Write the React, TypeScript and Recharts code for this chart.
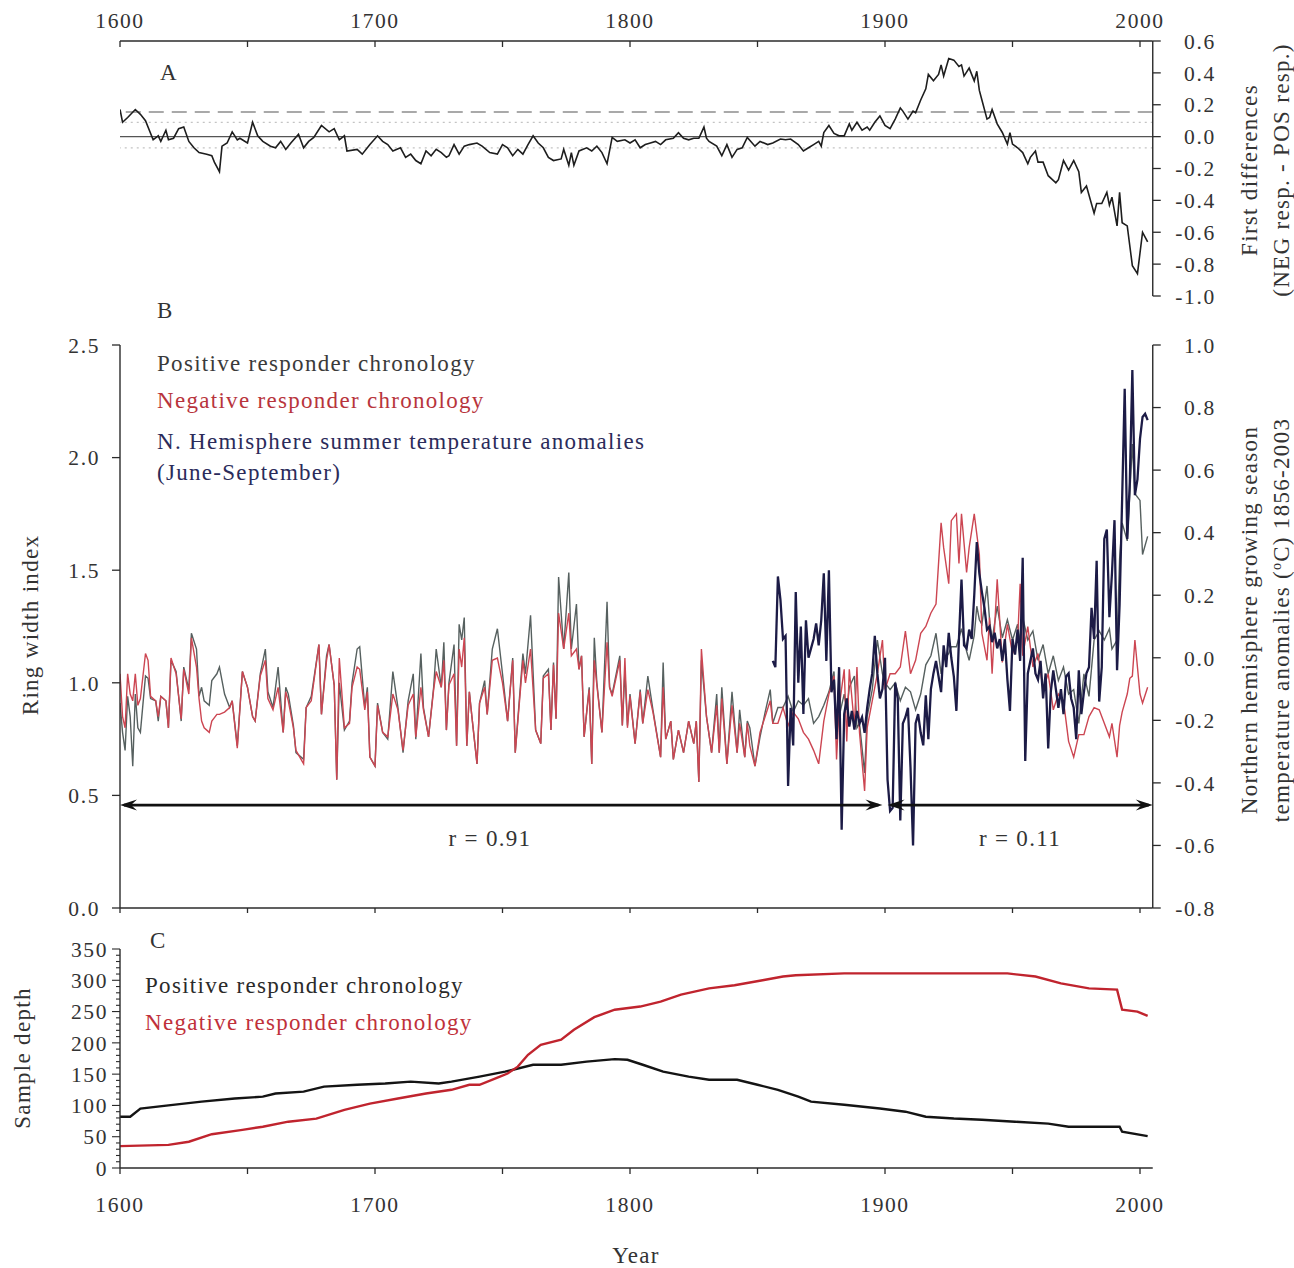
import React from 'react';
import { LineChart, Line, XAxis, YAxis, ReferenceLine } from 'recharts';

const FONT = '"Liberation Serif", "Times New Roman", serif';
const YEAR_DOMAIN: [number, number] = [1600, 2005];
const YEAR_TICKS = [1600, 1650, 1700, 1750, 1800, 1850, 1900, 1950, 2000];

// ---------- Panel A: first differences (NEG resp. - POS resp.) ----------
const diffYears = [
  1600, 1601, 1603, 1606, 1608, 1610, 1613, 1615, 1616, 1618, 1619, 1621, 1623, 1625, 1627, 1629, 1631, 1634, 1636, 1637,
  1639, 1640, 1642, 1644, 1646, 1647, 1650, 1652, 1654, 1656, 1659, 1661, 1663, 1665, 1667, 1670, 1672, 1674, 1676, 1679,
  1682, 1684, 1686, 1688, 1689, 1693, 1695, 1698, 1701, 1703, 1705, 1707, 1710, 1712, 1714, 1716, 1718, 1720, 1722, 1724,
  1726, 1728, 1729, 1731, 1733, 1735, 1737, 1740, 1742, 1745, 1748, 1750, 1752, 1754, 1756, 1758, 1760, 1762, 1764, 1766,
  1768, 1770, 1773, 1774, 1776, 1777, 1778, 1780, 1783, 1785, 1787, 1789, 1791, 1793, 1795, 1798, 1800, 1802, 1804, 1806,
  1808, 1810, 1812, 1814, 1817, 1819, 1821, 1823, 1825, 1827, 1829, 1830, 1831, 1834, 1836, 1838, 1840, 1842, 1844, 1846,
  1849, 1851, 1854, 1856, 1859, 1861, 1863, 1866, 1868, 1870, 1872, 1874, 1875, 1876, 1878, 1880, 1882, 1884, 1886, 1887,
  1889, 1891, 1893, 1894, 1896, 1898, 1900, 1902, 1904, 1906, 1907, 1909, 1911, 1912, 1914, 1916, 1917, 1919, 1921, 1922,
  1923, 1925, 1927, 1929, 1930, 1931, 1933, 1935, 1936, 1937, 1938, 1940, 1941, 1942, 1944, 1946, 1948, 1949, 1950, 1952,
  1954, 1956, 1957, 1959, 1960, 1962, 1964, 1967, 1968, 1970, 1972, 1974, 1976, 1977, 1979, 1982, 1983, 1985, 1987, 1988,
  1989, 1991, 1992, 1993, 1995, 1997, 1999, 2001, 2003,
];
const diffValues = [
  0.17, 0.09, 0.12, 0.17, 0.14, 0.1, -0.02, 0.005, -0.03, 0.04, -0.02, -0.01, 0.05, 0.06, -0.03, -0.07, -0.1, -0.11, -0.12, -0.16,
  -0.22, -0.06, -0.04, 0.03, -0.02, -0.01, -0.04, 0.09, 0.005, -0.03, -0.06, -0.07, -0.03, -0.08, -0.04, 0.015, -0.07, -0.03, -0.005, 0.07,
  0.03, 0.05, -0.02, 0.005, -0.09, -0.08, -0.11, -0.05, 0.005, -0.03, -0.05, -0.09, -0.07, -0.13, -0.11, -0.15, -0.17, -0.09, -0.12, -0.08,
  -0.1, -0.13, -0.12, -0.05, -0.11, -0.06, -0.05, -0.04, -0.06, -0.1, -0.11, -0.05, -0.07, -0.12, -0.08, -0.11, -0.05, 0.005, -0.04, -0.07,
  -0.13, -0.15, -0.14, -0.08, -0.18, -0.1, -0.18, -0.09, -0.07, -0.09, -0.06, -0.1, -0.17, -0.005, -0.03, -0.02, -0.04, -0.02, -0.07, -0.05,
  -0.04, -0.03, -0.05, -0.02, -0.01, 0.025, -0.01, -0.02, -0.01, -0.01, 0.06, -0.01, -0.03, -0.06, -0.12, -0.05, -0.13, -0.08, -0.07, -0.005,
  -0.06, -0.03, -0.05, -0.04, -0.015, -0.02, -0.015, -0.05, -0.09, -0.07, -0.05, -0.03, -0.06, 0.025, 0.07, 0.02, 0.005, 0.005, 0.08, 0.04,
  0.09, 0.04, 0.06, 0.04, 0.09, 0.13, 0.07, 0.05, 0.11, 0.18, 0.16, 0.11, 0.16, 0.15, 0.23, 0.3, 0.39, 0.35, 0.39, 0.45,
  0.38, 0.49, 0.48, 0.44, 0.45, 0.38, 0.43, 0.35, 0.41, 0.29, 0.23, 0.11, 0.12, 0.17, 0.08, 0.026, -0.047, 0.025, -0.047, -0.07,
  -0.1, -0.17, -0.13, -0.09, -0.16, -0.16, -0.245, -0.29, -0.27, -0.15, -0.21, -0.15, -0.22, -0.35, -0.31, -0.48, -0.42, -0.42, -0.35, -0.43,
  -0.38, -0.56, -0.35, -0.54, -0.56, -0.81, -0.86, -0.6, -0.66,
];
const diffTicks = [-1, -0.8, -0.6, -0.4, -0.2, 0, 0.2, 0.4, 0.6];
const diffRefDashed = 0.155;
const diffRefDotted = [0.09, -0.07];

// ---------- Panel B: ring width chronologies and temperature ----------
const rwYears = [
  1600, 1601, 1602, 1603, 1604, 1605, 1606, 1607, 1608, 1610, 1611, 1612, 1614, 1615, 1616, 1618, 1619, 1620, 1622, 1624,
  1625, 1627, 1628, 1630, 1631, 1632, 1633, 1635, 1636, 1638, 1639, 1641, 1643, 1644, 1646, 1648, 1650, 1652, 1653, 1655,
  1657, 1658, 1660, 1662, 1664, 1665, 1666, 1668, 1669, 1671, 1672, 1673, 1675, 1678, 1679, 1681, 1682, 1684, 1685, 1686,
  1688, 1690, 1691, 1693, 1694, 1696, 1697, 1698, 1700, 1701, 1703, 1705, 1707, 1709, 1711, 1713, 1715, 1716, 1718, 1719,
  1721, 1723, 1724, 1726, 1727, 1728, 1729, 1731, 1732, 1733, 1734, 1735, 1736, 1737, 1738, 1740, 1741, 1743, 1744, 1746,
  1748, 1750, 1752, 1754, 1755, 1758, 1759, 1761, 1763, 1765, 1766, 1768, 1769, 1770, 1771, 1772, 1774, 1776, 1777, 1779,
  1780, 1781, 1782, 1784, 1785, 1786, 1787, 1789, 1791, 1792, 1793, 1796, 1797, 1798, 1799, 1800, 1802, 1804, 1805, 1807,
  1809, 1812, 1813, 1814, 1816, 1817, 1819, 1821, 1823, 1825, 1826, 1827, 1828, 1830, 1832, 1834, 1835, 1836, 1838, 1840,
  1842, 1843, 1845, 1846, 1847, 1849, 1851, 1853, 1855, 1856, 1858, 1860, 1862, 1864, 1866, 1868, 1870, 1872, 1874, 1876,
  1878, 1880, 1881, 1882, 1884, 1885, 1886, 1888, 1889, 1890, 1892, 1893, 1895, 1897, 1899, 1900, 1902, 1904, 1906, 1908,
  1910, 1912, 1914, 1916, 1918, 1920, 1922, 1923, 1925, 1926, 1928, 1929, 1930, 1932, 1933, 1935, 1936, 1937, 1938, 1940,
  1941, 1942, 1944, 1946, 1948, 1950, 1952, 1953, 1954, 1956, 1958, 1960, 1962, 1964, 1966, 1968, 1970, 1972, 1974, 1976,
  1978, 1980, 1982, 1984, 1986, 1988, 1989, 1991, 1992, 1993, 1995, 1996, 1997, 1998, 2000, 2001, 2003,
];
const positiveRW = [
  0.91, 0.78, 0.7, 0.94, 0.85, 0.63, 0.95, 0.8, 0.78, 1.03, 1.02, 0.93, 0.92, 0.83, 0.94, 0.92, 0.8, 1.1, 1.05, 0.83,
  1.07, 0.97, 1.22, 1.15, 0.94, 0.98, 0.92, 0.9, 1.01, 1.04, 1.07, 0.95, 0.89, 0.92, 0.72, 1.05, 0.98, 0.85, 0.83, 1.04,
  1.15, 0.96, 0.89, 1.07, 0.78, 0.98, 0.95, 0.81, 0.69, 0.67, 0.66, 0.89, 0.94, 1.17, 0.86, 1.12, 1.17, 0.99, 0.57, 1.0,
  0.79, 0.83, 1.0, 1.15, 1.16, 0.89, 0.98, 0.67, 0.63, 0.91, 0.78, 0.75, 1.05, 0.89, 0.69, 0.92, 1.04, 0.75, 1.13, 0.89,
  0.76, 0.98, 1.15, 0.98, 1.18, 0.79, 1.0, 1.17, 0.72, 1.26, 1.19, 1.29, 0.72, 0.96, 0.85, 0.64, 0.91, 1.01, 0.86, 1.15,
  1.24, 1.04, 0.83, 1.11, 0.69, 1.13, 1.04, 1.3, 0.79, 0.73, 1.03, 1.06, 0.79, 1.09, 0.84, 1.47, 1.15, 1.49, 1.15, 1.35,
  1.06, 1.12, 0.76, 0.98, 0.64, 1.2, 1.0, 0.78, 1.36, 0.98, 0.95, 1.12, 0.81, 1.05, 0.81, 0.95, 0.73, 0.97, 0.82, 1.03,
  0.88, 0.67, 1.09, 0.75, 0.83, 0.66, 0.79, 0.69, 0.83, 0.73, 0.83, 0.56, 1.1, 0.85, 0.69, 0.95, 0.69, 0.98, 0.64, 0.96,
  0.69, 0.88, 0.67, 0.83, 0.8, 0.63, 0.76, 0.87, 0.97, 0.82, 0.89, 0.89, 0.94, 0.87, 0.92, 0.9, 0.93, 0.82, 0.85, 0.9,
  0.96, 1.05, 0.78, 0.85, 0.95, 0.88, 0.98, 1.03, 0.8, 0.82, 0.6, 0.85, 0.97, 1.19, 1.04, 1.0, 0.97, 1.0, 0.92, 0.98,
  0.96, 0.88, 0.95, 1.08, 1.12, 1.22, 1.04, 1.1, 1.13, 1.16, 1.16, 1.2, 1.24, 1.14, 1.1, 1.21, 1.34, 1.28, 1.26, 1.43,
  1.28, 1.19, 1.34, 1.2, 1.28, 1.19, 1.26, 1.18, 1.29, 1.19, 1.23, 1.1, 1.17, 1.04, 1.12, 1.01, 1.07, 0.95, 0.97, 0.82,
  1.04, 0.94, 1.19, 1.23, 1.19, 1.24, 1.15, 1.19, 1.55, 1.71, 1.63, 1.84, 2.06, 1.84, 1.81, 1.57, 1.65,
];
const negativeRW = [
  1.04, 0.85, 0.8, 1.04, 0.95, 0.92, 1.04, 0.9, 0.93, 1.13, 1.1, 0.94, 0.92, 0.85, 0.94, 0.92, 0.8, 1.11, 1.04, 0.84,
  1.06, 0.95, 1.2, 1.07, 0.93, 0.83, 0.8, 0.78, 0.83, 0.86, 0.86, 0.87, 0.89, 0.92, 0.71, 1.05, 0.98, 0.85, 0.83, 1.03,
  1.1, 0.93, 0.88, 0.98, 0.78, 0.96, 0.92, 0.8, 0.7, 0.66, 0.64, 0.89, 0.92, 1.17, 0.86, 1.1, 1.17, 0.99, 0.57, 1.11,
  0.8, 0.82, 0.98, 1.07, 1.06, 0.88, 0.96, 0.67, 0.63, 0.9, 0.78, 0.76, 0.95, 0.88, 0.7, 0.9, 0.95, 0.76, 0.98, 0.88,
  0.76, 0.97, 1.05, 0.98, 1.1, 0.79, 0.99, 1.04, 0.72, 1.15, 1.07, 1.2, 0.72, 0.96, 0.85, 0.64, 0.91, 0.98, 0.86, 1.1,
  1.11, 1.0, 0.83, 1.1, 0.69, 1.1, 1.0, 1.15, 0.79, 0.73, 1.02, 1.04, 0.79, 1.08, 0.84, 1.31, 1.15, 1.31, 1.12, 1.15,
  1.06, 1.12, 0.76, 0.97, 0.64, 1.1, 0.99, 0.78, 1.18, 0.98, 0.94, 1.1, 0.81, 1.11, 0.8, 0.94, 0.73, 0.96, 0.82, 0.97,
  0.87, 0.67, 0.98, 0.75, 0.83, 0.66, 0.79, 0.69, 0.83, 0.73, 0.83, 0.56, 1.15, 0.85, 0.69, 0.9, 0.69, 0.93, 0.64, 0.9,
  0.69, 0.82, 0.67, 0.82, 0.72, 0.63, 0.78, 0.85, 0.92, 0.82, 0.82, 0.89, 0.81, 0.87, 0.84, 0.78, 0.75, 0.7, 0.64, 0.83,
  0.95, 1.03, 0.66, 0.89, 1.06, 0.74, 1.06, 0.81, 1.07, 0.78, 0.52, 0.8, 0.92, 1.04, 1.19, 0.97, 1.04, 1.04, 1.07, 1.23,
  1.04, 1.1, 1.22, 1.25, 1.31, 1.35, 1.71, 1.6, 1.44, 1.72, 1.75, 1.53, 1.75, 1.49, 1.6, 1.75, 1.66, 1.57, 1.22, 1.1,
  1.29, 1.04, 1.46, 1.09, 1.26, 1.13, 1.19, 1.44, 1.12, 1.25, 1.07, 1.13, 0.97, 1.04, 0.88, 0.95, 0.92, 0.74, 0.67, 0.77,
  0.77, 0.85, 0.89, 0.88, 0.82, 0.76, 0.82, 0.67, 0.81, 0.87, 0.95, 1.02, 1.03, 1.19, 0.95, 0.91, 0.98,
];
const tempStartYear = 1856;
const tempAnomaly = [
  -0.01, -0.03, 0.26, 0.185,
  0.06, 0.07, -0.41, -0.16, -0.28, 0.21, -0.08, 0.1, -0.18, 0.12,
  0.0, 0.03, 0.06, 0.11, 0.04, 0.12, 0.27, -0.01, 0.28, -0.11,
  -0.07, -0.26, -0.03, -0.55, -0.18, -0.13, -0.22, -0.17, -0.23, -0.17,
  -0.21, -0.19, -0.24, -0.16, -0.1, -0.05, 0.07, -0.05, -0.13, -0.1,
  0.0, -0.39, -0.49, -0.48, -0.08, -0.13, -0.52, -0.21, -0.19, -0.16,
  -0.35, -0.6, -0.21, -0.18, -0.24, -0.28, -0.12, -0.26, -0.1, -0.05,
  -0.01, -0.06, -0.11, 0.04, -0.03, 0.08, 0.0, -0.06, -0.17, 0.06,
  0.25, 0.04, 0.03, 0.09, 0.06, 0.2, 0.37, 0.27, 0.21, 0.16,
  0.09, 0.1, 0.05, 0.08, 0.03, 0.06, -0.01, 0.06, -0.07, -0.17,
  0.06, 0.01, 0.09, -0.01, 0.32, -0.33, -0.05, -0.01, 0.03, -0.05,
  -0.07, -0.01, -0.13, -0.05, -0.29, -0.11, -0.04, -0.1, -0.16, -0.1,
  -0.18, -0.06, -0.05, -0.13, -0.16, -0.26, -0.04, -0.18, -0.11, -0.05,
  -0.03, 0.16, 0.06, 0.31, -0.14, -0.03, 0.38, 0.41, 0.13, 0.27,
  0.44, -0.04, 0.17, 0.51, 0.86, 0.38, 0.56, 0.92, 0.52, 0.57,
  0.7, 0.77, 0.78, 0.76,
];
const rwTicks = [0, 0.5, 1, 1.5, 2, 2.5];
const tempTicks = [-0.8, -0.6, -0.4, -0.2, 0, 0.2, 0.4, 0.6, 0.8, 1.0];
const arrowLevel = 0.457;
const periods = [
  { from: 1600, to: 1899, label: 'r = 0.91' },
  { from: 1901, to: 2005, label: 'r = 0.11' },
];

// ---------- Panel C: sample depth ----------
const depthPosYears = [
  1600, 1604, 1608, 1619, 1632, 1645, 1656, 1661, 1672, 1680, 1693, 1704, 1714, 1725, 1730, 1741, 1751, 1762, 1773, 1783,
  1794, 1799, 1805, 1813, 1823, 1831, 1842, 1850, 1858, 1866, 1871, 1884, 1898, 1908, 1916, 1927, 1938, 1951, 1964, 1972,
  1985, 1992, 1993, 2003,
];
const depthPos = [
  82, 82, 95, 100, 106, 111, 114, 119, 122, 130, 133, 135, 138, 135, 138, 146, 154, 165, 165, 170,
  174, 173, 165, 154, 146, 141, 141, 133, 125, 114, 106, 101, 95, 90, 82, 79, 77, 74, 71, 66,
  66, 66, 58, 51,
];
const depthNegYears = [
  1600, 1619, 1627, 1636, 1648, 1656, 1666, 1677, 1688, 1698, 1709, 1720, 1730, 1737, 1741, 1749, 1752, 1756, 1760, 1765,
  1773, 1778, 1786, 1794, 1804, 1812, 1820, 1831, 1841, 1852, 1860, 1865, 1884, 1948, 1959, 1969, 1980, 1991, 1993, 1999,
  2003,
];
const depthNeg = [
  35, 37, 42, 54, 61, 66, 74, 79, 93, 103, 111, 119, 125, 133, 133, 146, 151, 162, 181, 197,
  205, 221, 241, 253, 258, 266, 277, 287, 292, 300, 306, 308, 311, 311, 306, 295, 287, 285, 253, 250,
  243,
];
const depthTicks = [0, 10, 20, 30, 40, 50, 60, 70, 80, 90, 100, 110, 120, 130, 140, 150, 160, 170, 180, 190, 200,
  210, 220, 230, 240, 250, 260, 270, 280, 290, 300, 310, 320, 330, 340, 350];

// ---------- derived tables ----------
const diffData = diffYears.map((year, i) => ({ year, v: diffValues[i] }));
const rwData = rwYears.map((year, i) => ({ year, pos: positiveRW[i], neg: negativeRW[i] }));
const tempData = tempAnomaly.map((v, i) => ({ year: tempStartYear + i, v }));
const depthPosData = depthPosYears.map((year, i) => ({ year, v: depthPos[i] }));
const depthNegData = depthNegYears.map((year, i) => ({ year, v: depthNeg[i] }));

const AXIS = '#2b2b2b';
const TXT = '#333333';
const LBL = 21.5;
const LSP = 1.6;
const TFS = 23;
const TSP = 1.3;

const TopYearTick = (p: any) => {
  const { x, y, payload } = p;
  const v = payload.value;
  return (
    <g>
      <line x1={x} y1={y} x2={x} y2={y + 6} stroke={AXIS} strokeWidth={1.3} />
      {v % 100 === 0 && (
        <text x={x} y={y - 13} textAnchor="middle" fontFamily={FONT} fontSize={LBL} fill={TXT} letterSpacing={LSP}>
          {v}
        </text>
      )}
    </g>
  );
};

const BottomTickNoLabel = (p: any) => {
  const { x, y } = p;
  return <line x1={x} y1={y} x2={x} y2={y + 5} stroke={AXIS} strokeWidth={1.3} />;
};

const BottomYearTick = (p: any) => {
  const { x, y, payload } = p;
  const v = payload.value;
  return (
    <g>
      <line x1={x} y1={y} x2={x} y2={y + 6} stroke={AXIS} strokeWidth={1.3} />
      {v % 100 === 0 && (
        <text x={x} y={y + 44} textAnchor="middle" fontFamily={FONT} fontSize={LBL} fill={TXT} letterSpacing={LSP}>
          {v}
        </text>
      )}
    </g>
  );
};

const RightTick = (p: any) => {
  const { x, y, payload } = p;
  return (
    <g>
      <line x1={x} y1={y} x2={x + 8} y2={y} stroke={AXIS} strokeWidth={1.3} />
      <text x={x + 63} y={y} dy="0.36em" textAnchor="end" fontFamily={FONT} fontSize={LBL} fill={TXT} letterSpacing={LSP}>
        {Number(payload.value).toFixed(1)}
      </text>
    </g>
  );
};

const LeftTick = (p: any) => {
  const { x, y, payload } = p;
  return (
    <g>
      <line x1={x - 8} y1={y} x2={x} y2={y} stroke={AXIS} strokeWidth={1.3} />
      <text x={x - 20} y={y} dy="0.36em" textAnchor="end" fontFamily={FONT} fontSize={LBL} fill={TXT} letterSpacing={LSP}>
        {Number(payload.value).toFixed(1)}
      </text>
    </g>
  );
};

const DepthTick = (p: any) => {
  const { x, y, payload } = p;
  const v = payload.value;
  const major = v % 50 === 0;
  return (
    <g>
      <line x1={x - (major ? 8 : 4)} y1={y} x2={x} y2={y} stroke={AXIS} strokeWidth={1.1} />
      {major && (
        <text x={x - 12} y={y} dy="0.36em" textAnchor="end" fontFamily={FONT} fontSize={LBL} fill={TXT} letterSpacing={LSP}>
          {v}
        </text>
      )}
    </g>
  );
};

const head = (tx: number, ty: number, dir: number) => {
  const L = 17;
  const W = 5.5;
  const n = 11;
  return `${tx},${ty} ${tx - dir * L},${ty - W} ${tx - dir * n},${ty} ${tx - dir * L},${ty + W}`;
};

const DoubleArrow = (p: any) => {
  const { x1, y1, x2, y2 } = p;
  return (
    <g>
      <line x1={x1 + 4} y1={y1} x2={x2 - 4} y2={y2} stroke="#111" strokeWidth={2.6} />
      <polygon points={head(x1, y1, -1)} fill="#111" />
      <polygon points={head(x2, y2, 1)} fill="#111" />
    </g>
  );
};

const pageText = (x: number, y: number, s: React.ReactNode, extra: any = {}) => (
  <text x={x} y={y} fontFamily={FONT} fontSize={TFS} fill={TXT} letterSpacing={TSP} {...extra}>
    {s}
  </text>
);

export default function App() {
  return (
    <div style={{ position: 'absolute', left: 0, top: 0, width: 1294, height: 1268, background: '#fff' }}>
      {/* Panel A */}
      <div style={{ position: 'absolute', left: 0, top: 0 }}>
        <LineChart width={1294} height={320} margin={{ top: 11, right: 81.25, bottom: 24, left: 120 }}>
          <XAxis
            dataKey="year"
            type="number"
            orientation="top"
            domain={YEAR_DOMAIN}
            ticks={YEAR_TICKS}
            interval={0}
            allowDataOverflow
            height={30}
            tickSize={0}
            tickMargin={0}
            tickLine={false}
            tick={<TopYearTick />}
            axisLine={{ stroke: AXIS, strokeWidth: 1.4 }}
          />
          <YAxis
            yAxisId="d"
            orientation="right"
            type="number"
            domain={[-1, 0.6]}
            ticks={diffTicks}
            interval={0}
            allowDataOverflow
            width={60}
            tickSize={0}
            tickMargin={0}
            tickLine={false}
            tick={<RightTick />}
            axisLine={{ stroke: AXIS, strokeWidth: 1.4 }}
          />
          <ReferenceLine yAxisId="d" y={diffRefDashed} stroke="#a9a9a9" strokeWidth={2} strokeDasharray="15 8" />
          {diffRefDotted.map((v) => (
            <ReferenceLine key={v} yAxisId="d" y={v} stroke="#c4c4c4" strokeWidth={1.2} strokeDasharray="2 4" />
          ))}
          <ReferenceLine yAxisId="d" y={0} stroke="#555" strokeWidth={1.3} />
          <Line
            yAxisId="d"
            data={diffData}
            dataKey="v"
            type="linear"
            stroke="#1e1e1e"
            strokeWidth={1.6}
            dot={false}
            isAnimationActive={false}
          />
        </LineChart>
      </div>

      {/* Panel B */}
      <div style={{ position: 'absolute', left: 0, top: 300 }}>
        <LineChart width={1294} height={640} margin={{ top: 45, right: 81.25, bottom: 12, left: 60 }}>
          <XAxis
            dataKey="year"
            type="number"
            domain={YEAR_DOMAIN}
            ticks={YEAR_TICKS}
            interval={0}
            allowDataOverflow
            height={20}
            tickSize={0}
            tickMargin={0}
            tickLine={false}
            tick={<BottomTickNoLabel />}
            axisLine={{ stroke: AXIS, strokeWidth: 1.4 }}
          />
          <YAxis
            yAxisId="rw"
            orientation="left"
            type="number"
            domain={[0, 2.5]}
            ticks={rwTicks}
            interval={0}
            allowDataOverflow
            width={60}
            tickSize={0}
            tickMargin={0}
            tickLine={false}
            tick={<LeftTick />}
            axisLine={{ stroke: AXIS, strokeWidth: 1.4 }}
          />
          <YAxis
            yAxisId="t"
            orientation="right"
            type="number"
            domain={[-0.8, 1.0]}
            ticks={tempTicks}
            interval={0}
            allowDataOverflow
            width={60}
            tickSize={0}
            tickMargin={0}
            tickLine={false}
            tick={<RightTick />}
            axisLine={{ stroke: AXIS, strokeWidth: 1.4 }}
          />
          <Line
            yAxisId="rw"
            data={rwData}
            dataKey="pos"
            type="linear"
            stroke="#56605f"
            strokeWidth={1.4}
            dot={false}
            isAnimationActive={false}
          />
          <Line
            yAxisId="rw"
            data={rwData}
            dataKey="neg"
            type="linear"
            stroke="#cc4652"
            strokeWidth={1.4}
            dot={false}
            isAnimationActive={false}
          />
          <Line
            yAxisId="t"
            data={tempData}
            dataKey="v"
            type="linear"
            stroke="#1c1b46"
            strokeWidth={2.3}
            dot={false}
            isAnimationActive={false}
          />
          {periods.map((pr) => (
            <ReferenceLine
              key={pr.label}
              yAxisId="rw"
              ifOverflow="visible"
              segment={[
                { x: pr.from, y: arrowLevel },
                { x: pr.to, y: arrowLevel },
              ]}
              shape={(p: any) => <DoubleArrow {...p} />}
            />
          ))}
        </LineChart>
      </div>

      {/* Panel C */}
      <div style={{ position: 'absolute', left: 0, top: 930 }}>
        <LineChart width={1294} height={338} margin={{ top: 19, right: 141.25, bottom: 40, left: 60 }}>
          <XAxis
            dataKey="year"
            type="number"
            domain={YEAR_DOMAIN}
            ticks={YEAR_TICKS}
            interval={0}
            allowDataOverflow
            height={60}
            tickSize={0}
            tickMargin={0}
            tickLine={false}
            tick={<BottomYearTick />}
            axisLine={{ stroke: AXIS, strokeWidth: 1.4 }}
          />
          <YAxis
            yAxisId="n"
            orientation="left"
            type="number"
            domain={[0, 350]}
            ticks={depthTicks}
            interval={0}
            allowDataOverflow
            width={60}
            tickSize={0}
            tickMargin={0}
            tickLine={false}
            tick={<DepthTick />}
            axisLine={{ stroke: AXIS, strokeWidth: 1.4 }}
          />
          <Line
            yAxisId="n"
            data={depthPosData}
            dataKey="v"
            type="linear"
            stroke="#141414"
            strokeWidth={2.4}
            dot={false}
            isAnimationActive={false}
          />
          <Line
            yAxisId="n"
            data={depthNegData}
            dataKey="v"
            type="linear"
            stroke="#c0242e"
            strokeWidth={2.4}
            dot={false}
            isAnimationActive={false}
          />
        </LineChart>
      </div>

      {/* Text overlay */}
      <svg
        width={1294}
        height={1268}
        style={{ position: 'absolute', left: 0, top: 0, pointerEvents: 'none' }}
      >
        {pageText(160, 80, 'A')}
        {pageText(157, 318, 'B')}
        {pageText(150, 948, 'C')}

        {pageText(157, 371, 'Positive responder chronology', { fill: '#3a3a3a' })}
        {pageText(157, 408, 'Negative responder chronology', { fill: '#b8343c' })}
        {pageText(157, 449, 'N. Hemisphere summer temperature anomalies', { fill: '#2b2b5a' })}
        {pageText(157, 480, '(June-September)', { fill: '#2b2b5a' })}

        {pageText(490, 846, periods[0].label, { textAnchor: 'middle' })}
        {pageText(1020, 846, periods[1].label, { textAnchor: 'middle' })}

        {pageText(145, 993, 'Positive responder chronology', { fill: '#2a2a2a' })}
        {pageText(145, 1030, 'Negative responder chronology', { fill: '#c0303a' })}

        {pageText(636, 1263, 'Year', { textAnchor: 'middle' })}

        {pageText(38, 625, 'Ring width index', { textAnchor: 'middle', transform: 'rotate(-90 38 625)' })}
        {pageText(30, 1058, 'Sample depth', { textAnchor: 'middle', transform: 'rotate(-90 30 1058)' })}
        {pageText(1257, 170, 'First differences', { textAnchor: 'middle', transform: 'rotate(-90 1257 170)' })}
        {pageText(1289, 170, '(NEG resp. - POS resp.)', { textAnchor: 'middle', transform: 'rotate(-90 1289 170)' })}
        {pageText(1257, 620, 'Northern hemisphere growing season', {
          textAnchor: 'middle',
          transform: 'rotate(-90 1257 620)',
        })}
        <text
          x={1289}
          y={620}
          fontFamily={FONT}
          fontSize={TFS}
          fill={TXT}
          letterSpacing={TSP}
          textAnchor="middle"
          transform="rotate(-90 1289 620)"
        >
          temperature anomalies (
          <tspan fontSize={14} dy={-8}>
            o
          </tspan>
          <tspan dy={8}>C) 1856-2003</tspan>
        </text>
      </svg>
    </div>
  );
}
